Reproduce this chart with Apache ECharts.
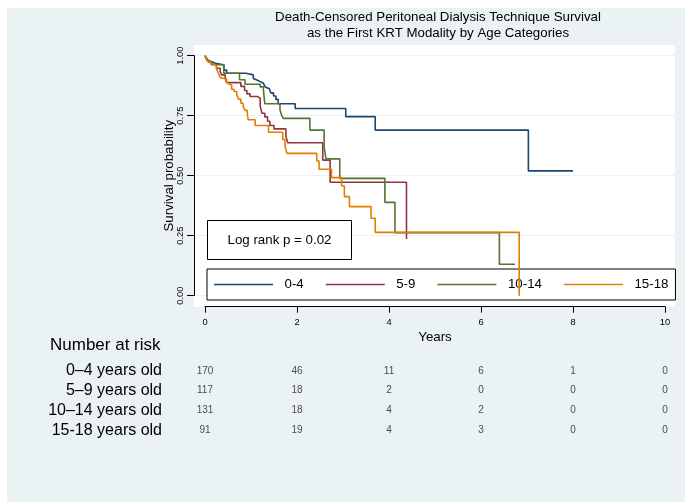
<!DOCTYPE html>
<html><head><meta charset="utf-8">
<script src="https://cdn.jsdelivr.net/npm/echarts@6/dist/echarts.min.js"></script>
<style>html,body{margin:0;padding:0;background:#fff}#c{width:685px;height:502px}</style>
</head><body><div id="c"></div>
<script>
// ---- data ----
const groups = ['0-4', '5-9', '10-14', '15-18'];
const groupColors = ['#1a476f', '#90353b', '#55752f', '#e37e00'];

const years04 = [0, 0.03, 0.07, 0.11, 0.16, 0.22, 0.41, 0.47, 0.89, 1.05, 1.09, 1.14, 1.20, 1.27, 1.31, 1.34, 1.40, 1.43, 1.49, 1.54, 1.59, 1.96, 3.06, 3.70, 7.03, 8.00];
const surv04  = [1.00, 0.990, 0.980, 0.974, 0.968, 0.962, 0.940, 0.927, 0.920, 0.905, 0.898, 0.892, 0.885, 0.878, 0.870, 0.862, 0.855, 0.845, 0.832, 0.818, 0.800, 0.780, 0.746, 0.690, 0.520, 0.520];

const years59 = [0, 0.04, 0.08, 0.13, 0.20, 0.25, 0.33, 0.36, 0.44, 0.47, 0.78, 0.86, 0.91, 0.98, 1.14, 1.20, 1.24, 1.30, 1.36, 1.41, 1.50, 1.76, 1.78, 1.80, 2.56, 2.72, 4.38];
const surv59  = [1.00, 0.985, 0.975, 0.966, 0.958, 0.948, 0.934, 0.920, 0.906, 0.888, 0.872, 0.855, 0.841, 0.830, 0.823, 0.789, 0.760, 0.745, 0.727, 0.709, 0.695, 0.664, 0.650, 0.637, 0.565, 0.473, 0.236];

const years1014 = [0, 0.03, 0.07, 0.12, 0.15, 0.41, 0.75, 0.87, 1.20, 1.27, 1.30, 1.63, 1.66, 1.70, 2.28, 2.59, 2.63, 2.93, 3.91, 4.13, 6.40, 6.74];
const surv1014  = [1.00, 0.985, 0.975, 0.968, 0.962, 0.927, 0.900, 0.881, 0.870, 0.857, 0.800, 0.775, 0.755, 0.739, 0.690, 0.620, 0.570, 0.489, 0.389, 0.263, 0.131, 0.131];

const years1518 = [0, 0.03, 0.07, 0.12, 0.18, 0.25, 0.29, 0.33, 0.36, 0.47, 0.51, 0.54, 0.58, 0.63, 0.69, 0.73, 0.78, 0.83, 0.87, 0.92, 0.94, 1.09, 1.38, 1.69, 1.74, 1.78, 2.43, 2.48, 2.75, 2.97, 3.03, 3.14, 3.61, 3.70, 6.83];
const surv1518  = [1.00, 0.985, 0.975, 0.966, 0.958, 0.946, 0.927, 0.909, 0.902, 0.892, 0.883, 0.878, 0.860, 0.851, 0.837, 0.819, 0.802, 0.789, 0.772, 0.755, 0.733, 0.709, 0.681, 0.651, 0.623, 0.593, 0.561, 0.527, 0.492, 0.457, 0.413, 0.371, 0.323, 0.264, 0.000];

const atRiskTimes = [0, 2, 4, 6, 8, 10];
const riskRows = ['0–4 years old', '5–9 years old', '10–14 years old', '15-18 years old'];
const risk04   = [170, 46, 11, 6, 1, 0];
const risk59   = [117, 18, 2, 0, 0, 0];
const risk1014 = [131, 18, 4, 2, 0, 0];
const risk1518 = [91, 19, 4, 3, 0, 0];

const titleText = 'Death-Censored Peritoneal Dialysis Technique Survival\nas the First KRT Modality by Age Categories';
const logRankText = 'Log rank p = 0.02';

// ---- build ----
const FONT = 'Liberation Sans, Arial, Helvetica, sans-serif';
const survYears = [years04, years59, years1014, years1518];
const survVals = [surv04, surv59, surv1014, surv1518];
const riskCounts = [risk04, risk59, risk1014, risk1518];

const kmSeries = groups.map((g, i) => ({
  type: 'line', name: g, step: 'end', symbol: 'none', showSymbol: false,
  xAxisIndex: 0, yAxisIndex: 0, silent: true, z: 3 + i,
  data: survYears[i].map((t, k) => [t, survVals[i][k]]),
  lineStyle: { color: groupColors[i], width: 1.6 },
  itemStyle: { color: groupColors[i] }
}));

const riskData = [];
riskCounts.forEach((row, r) => row.forEach((n, j) => riskData.push([atRiskTimes[j], r, n])));

const chart = echarts.init(document.getElementById('c'), null, { renderer: 'canvas' });
chart.setOption({
  animation: false,
  backgroundColor: '#ffffff',
  textStyle: { fontFamily: FONT },
  grid: [
    { left: 205, right: 20, top: 55.7, height: 240, outerBoundsMode: 'none' },
    { left: 205, right: 20, top: 361, height: 79, outerBoundsMode: 'none' },
    { left: 194, right: 10, top: 55.7, height: 240, outerBoundsMode: 'none' }
  ],
  xAxis: [
    { type: 'value', gridIndex: 0, min: 0, max: 10, interval: 2, offset: 11,
      axisLine: { show: true, onZero: false, lineStyle: { color: '#000', width: 1 } },
      axisTick: { show: true, length: 6, lineStyle: { color: '#000' } },
      axisLabel: { fontSize: 9.3, color: '#000', margin: 11, fontFamily: FONT },
      splitLine: { show: false },
      name: 'Years', nameLocation: 'middle', nameGap: 24, nameMoveOverlap: false,
      nameTextStyle: { fontSize: 13.3, color: '#000', fontFamily: FONT } },
    { type: 'value', gridIndex: 1, min: 0, max: 10, show: false },
    { type: 'value', gridIndex: 2, min: 0, max: 1, show: false }
  ],
  yAxis: [
    { type: 'value', gridIndex: 0, min: 0, max: 1, interval: 0.25, offset: 11,
      axisLine: { show: true, onZero: false, lineStyle: { color: '#000', width: 1 } },
      axisTick: { show: true, length: 7, lineStyle: { color: '#000' } },
      axisLabel: { rotate: 90, fontSize: 9.3, color: '#000', margin: 9, fontFamily: FONT,
        formatter: v => v.toFixed(2) },
      splitLine: { show: false },
      name: 'Survival probability', nameLocation: 'middle', nameGap: 18, nameRotate: 90,
      nameMoveOverlap: false,
      nameTextStyle: { fontSize: 13.3, color: '#000', fontFamily: FONT } },
    { type: 'category', gridIndex: 1, data: riskRows, inverse: true,
      axisLine: { show: false }, axisTick: { show: false }, splitLine: { show: false },
      axisLabel: { interval: 0, fontSize: 16, color: '#000', margin: 43, fontFamily: FONT } },
    { type: 'value', gridIndex: 2, min: 0, max: 1, interval: 0.25,
      axisLine: { show: false }, axisTick: { show: false }, axisLabel: { show: false },
      splitLine: { show: true, lineStyle: { color: '#eaf2f3', width: 1.2 } } }
  ],
  legend: {
    data: groups, left: 207, top: 269, orient: 'horizontal',
    padding: [8, 7, 8, 7], itemGap: 22, itemWidth: 59, itemHeight: 1.6,
    icon: 'rect',
    backgroundColor: '#fff', borderColor: '#000', borderWidth: 1, borderRadius: 0,
    selectedMode: false,
    textStyle: { fontSize: 13.3, lineHeight: 15, color: '#000', fontFamily: FONT, padding: [0, 0, 0, 6.5] }
  },
  graphic: [
    { type: 'rect', z: -20, silent: true, shape: { x: 7, y: 8, width: 678, height: 494 }, style: { fill: '#eaf2f3' } },
    { type: 'rect', z: -19, silent: true, shape: { x: 194, y: 45, width: 481, height: 262 }, style: { fill: '#ffffff' } },
    { type: 'text', z: 10, silent: true, style: { text: titleText, x: 438, y: 25.3, align: 'center', verticalAlign: 'middle',
        fontSize: 13.3, lineHeight: 15.5, fontFamily: FONT, fill: '#000' } },
    { type: 'rect', z: 10, silent: true, shape: { x: 207.5, y: 220.5, width: 144, height: 39 },
      style: { fill: '#fff', stroke: '#000', lineWidth: 1 } },
    { type: 'text', z: 11, silent: true, style: { text: logRankText, x: 279.5, y: 240, align: 'center', verticalAlign: 'middle',
        fontSize: 13.3, fontFamily: FONT, fill: '#000' } },
    { type: 'text', z: 10, silent: true, style: { text: 'Number at risk', x: 50, y: 345, align: 'left', verticalAlign: 'middle',
        fontSize: 17, fontFamily: FONT, fill: '#000' } }
  ],
  series: kmSeries.concat([{
    type: 'scatter', xAxisIndex: 1, yAxisIndex: 1, silent: true,
    symbolSize: 1, itemStyle: { color: 'rgba(0,0,0,0)' },
    data: riskData,
    label: { show: true, position: 'inside', formatter: p => String(p.value[2]),
      fontSize: 10, color: '#222', fontFamily: FONT }
  }])
});
</script></body></html>
